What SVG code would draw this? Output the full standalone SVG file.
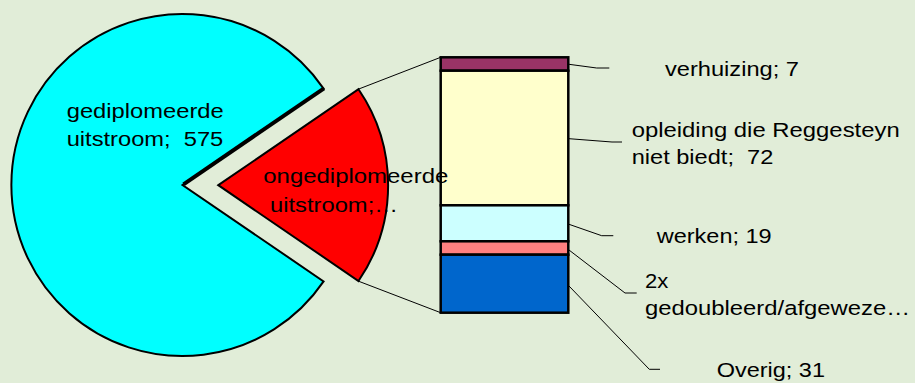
<svg xmlns="http://www.w3.org/2000/svg" width="915" height="383" viewBox="0 0 915 383">
<style>
text{font-family:"Liberation Sans",Arial,sans-serif;font-size:20.5px;fill:#000;white-space:pre}
.slice{stroke:#000;stroke-width:2;stroke-linejoin:miter}
.seg{stroke:#000;stroke-width:2.5}
.lead{fill:none;stroke:#000;stroke-width:1}
</style>
<rect width="915" height="383" fill="#E1EDD8"/>
<g id="connectors">
<line class="lead" x1="358" y1="89.3" x2="440.7" y2="57.3"/>
<line class="lead" x1="358" y1="281" x2="440.7" y2="312.7"/>
<polyline class="lead" points="569,64.3 596.7,68 609.3,68"/>
<polyline class="lead" points="569,138.7 612,142 622,142"/>
<polyline class="lead" points="569,224.3 601.7,235.7 613.3,235.7"/>
<polyline class="lead" points="569,250 625,293 636.7,293"/>
<polyline class="lead" points="569,286 649.3,369.3 660,369.3"/>
</g>
<g id="node-gediplomeerd">
<path class="slice" fill="#00FFFF" d="M182.5 185 L323.6 88.6 A171 171 0 1 0 323.6 281.4 Z"/>
<line x1="183.5" y1="184.3" x2="324" y2="88.3" stroke="#000" stroke-width="4"/>
<text x="66.7" y="118.3" textLength="157" lengthAdjust="spacingAndGlyphs">gediplomeerde</text>
<text x="66.7" y="146" textLength="156.6" lengthAdjust="spacingAndGlyphs">uitstroom;  575</text>
</g>
<g id="node-ongediplomeerd">
<path class="slice" fill="#FF0000" d="M218.3 185.2 L358.5 89.2 A170 170 0 0 1 358.5 281 Z"/>
</g>
<g id="node-verhuizing">
<rect class="seg" x="440.7" y="57.3" width="127.6" height="13.4" fill="#993366"/>
<text x="665" y="76" textLength="134" lengthAdjust="spacingAndGlyphs">verhuizing; 7</text>
</g>
<g id="node-opleiding">
<rect class="seg" x="440.7" y="70.7" width="127.6" height="134.6" fill="#FFFFCC"/>
<text x="631.7" y="137.3" textLength="268" lengthAdjust="spacingAndGlyphs">opleiding die Reggesteyn</text>
<text x="631.7" y="164" textLength="141.6" lengthAdjust="spacingAndGlyphs">niet biedt;  72</text>
</g>
<g id="node-werken">
<rect class="seg" x="440.7" y="205.3" width="127.6" height="36" fill="#CCFFFF"/>
<text x="656.7" y="243.3" textLength="115" lengthAdjust="spacingAndGlyphs">werken; 19</text>
</g>
<g id="node-gedoubleerd">
<rect class="seg" x="440.7" y="241.3" width="127.6" height="13.4" fill="#FF8080"/>
<text x="645" y="288.3" textLength="23.3" lengthAdjust="spacingAndGlyphs">2x</text>
<text x="645" y="315" textLength="265" lengthAdjust="spacingAndGlyphs">gedoubleerd/afgeweze…</text>
</g>
<g id="node-overig">
<rect class="seg" x="440.7" y="254.7" width="127.6" height="58" fill="#0066CC"/>
<text x="716.7" y="376.7" textLength="108.3" lengthAdjust="spacingAndGlyphs">Overig; 31</text>
</g>
<g id="label-ongediplomeerd">
<text x="263.3" y="182.7" textLength="185" lengthAdjust="spacingAndGlyphs">ongediplomeerde</text>
<text x="270" y="211.5" textLength="128" lengthAdjust="spacingAndGlyphs">uitstroom;…</text>
</g>
</svg>
